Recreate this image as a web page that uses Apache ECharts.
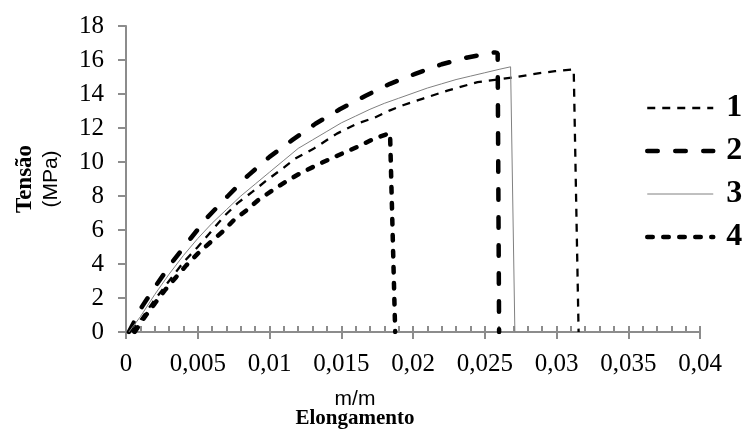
<!DOCTYPE html>
<html>
<head>
<meta charset="utf-8">
<script src="https://cdn.jsdelivr.net/npm/echarts@6/dist/echarts.min.js"></script>
<style>html,body{margin:0;padding:0;background:#fff}#c{width:748px;height:436px}</style>
</head>
<body>
<div id="c"></div>
<script>
// Series names
var seriesNames = ['1', '2', '3', '4'];
// Axis ticks
var xTicks = { min: 0, max: 0.04, interval: 0.005, minor: 0.001 };
var yTicks = { min: 0, max: 18, interval: 2 };

// [strain m/m, stress MPa]
var curve1 = [[0.0004,0],[0.001,0.7],[0.002,1.9],[0.003,3.0],[0.004,4.1],[0.005,5.0],[0.0062,6.18],[0.0069,6.86],[0.0078,7.6],[0.0088,8.24],[0.0098,8.92],[0.0109,9.61],[0.0118,10.2],[0.0131,10.8],[0.0147,11.67],[0.0161,12.26],[0.0173,12.6],[0.0184,13.04],[0.0193,13.34],[0.0207,13.73],[0.0224,14.2],[0.0245,14.7],[0.0259,14.85],[0.0272,15.0],[0.0286,15.2],[0.0299,15.34],[0.0312,15.45],[0.03154,0]];
var curve2 = [[0.0002,0],[0.0011,1.47],[0.0021,2.75],[0.0033,4.2],[0.0045,5.5],[0.0057,6.77],[0.0071,8.0],[0.0085,9.2],[0.01,10.3],[0.0116,11.3],[0.0132,12.25],[0.0149,13.1],[0.0167,13.9],[0.0184,14.6],[0.0202,15.2],[0.022,15.75],[0.0238,16.15],[0.0257,16.45],[0.0259,16.4],[0.0260,0]];
var curve3 = [[0.0002,0],[0.001,0.9],[0.002,2.2],[0.003,3.4],[0.004,4.5],[0.005,5.5],[0.006,6.4],[0.007,7.2],[0.008,8.0],[0.009,8.7],[0.01,9.4],[0.011,10.1],[0.012,10.8],[0.013,11.3],[0.014,11.8],[0.015,12.3],[0.016,12.7],[0.017,13.1],[0.018,13.45],[0.019,13.75],[0.02,14.05],[0.021,14.35],[0.022,14.6],[0.023,14.85],[0.024,15.05],[0.025,15.25],[0.026,15.45],[0.0268,15.6],[0.0271,0]];
var curve4 = [[0.0006,0],[0.0013,0.88],[0.002,1.67],[0.0027,2.45],[0.0035,3.24],[0.0042,3.92],[0.005,4.61],[0.0059,5.29],[0.0067,5.88],[0.0075,6.57],[0.0084,7.16],[0.0092,7.75],[0.0102,8.33],[0.0111,8.82],[0.0121,9.32],[0.0135,9.9],[0.0148,10.4],[0.0161,10.88],[0.0173,11.38],[0.0184,11.7],[0.01876,0]];

var SERIF = "'Liberation Serif','Times New Roman',serif";
var SANS = "'Liberation Sans',Arial,sans-serif";
var AX = '#8c8c8c';

function fmt(v) {
  return parseFloat(v.toFixed(3)).toString().replace('.', ',');
}

var styles = [
  { color: '#000', width: 2.3, type: [8, 7], cap: 'butt' },
  { color: '#000', width: 4.5, type: [10.5, 17.5], cap: 'round' },
  { color: '#808080', width: 1, type: 'solid', cap: 'butt' },
  { color: '#000', width: 4.5, type: [5.5, 10.5], cap: 'round' }
];

var chart = echarts.init(document.getElementById('c'), null, { renderer: 'canvas' });
var grid = { left: 126, right: 48, top: 26, bottom: 104 };

function lineSeries(i, data) {
  var ls = styles[i];
  return { name: seriesNames[i], type: 'line', data: data, symbol: 'none', showSymbol: false,
    silent: true, animation: false, lineStyle: ls, itemStyle: { color: ls.color }, z: 3 };
}

chart.setOption({
  animation: false,
  grid: grid,
  legend: {
    orient: 'vertical', left: 645, top: 91, padding: 0, itemWidth: 66, itemHeight: 14, itemGap: 9,
    itemStyle: { color: 'rgba(0,0,0,0)', borderWidth: 0, opacity: 0 },
    textStyle: { fontFamily: SERIF, fontWeight: 'bold', fontSize: 32, color: '#000', lineHeight: 34, padding: [0,0,0,8] },
    data: seriesNames.map(function (n, i) {
      var s = styles[i];
      return { name: n, lineStyle: { color: s.color, width: s.width, type: s.type, cap: s.cap } };
    })
  },
  xAxis: [{
    type: 'value', min: xTicks.min, max: xTicks.max, interval: xTicks.interval,
    axisLine: { lineStyle: { color: AX, width: 2 } },
    axisTick: { show: true, inside: false, length: 7, lineStyle: { color: AX, width: 2 } },
    splitLine: { show: false },
    axisLabel: { formatter: fmt, fontFamily: SERIF, fontSize: 25, color: '#000', margin: 20 },
    name: '{a|m/m}\n{b|Elongamento}',
    nameLocation: 'middle', nameGap: 57,
    nameTextStyle: {
      padding: [0, 116, 0, 0],
      rich: {
        a: { fontFamily: SANS, fontSize: 21, color: '#000', lineHeight: 20, align: 'center' },
        b: { fontFamily: SERIF, fontSize: 21, fontWeight: 'bold', color: '#000', lineHeight: 20, align: 'center' }
      }
    }
  }, {
    type: 'value', min: xTicks.min, max: xTicks.max, interval: xTicks.minor, position: 'bottom',
    axisLine: { show: false },
    axisTick: { show: true, inside: true, length: 6, lineStyle: { color: AX, width: 2 } },
    axisLabel: { show: false }, splitLine: { show: false }
  }],
  yAxis: {
    type: 'value', min: yTicks.min, max: yTicks.max, interval: yTicks.interval,
    axisLine: { show: true, lineStyle: { color: AX, width: 2 } },
    axisTick: { show: true, inside: false, length: 8, lineStyle: { color: AX, width: 2 } },
    splitLine: { show: false },
    axisLabel: { fontFamily: SERIF, fontSize: 25, color: '#000', margin: 22 },
    name: '{a|Tensão}\n{b|(MPa)}',
    nameLocation: 'middle', nameGap: 62, nameRotate: 90,
    nameTextStyle: {
      rich: {
        a: { fontFamily: SERIF, fontSize: 23, fontWeight: 'bold', color: '#000', lineHeight: 26, align: 'center' },
        b: { fontFamily: SANS, fontSize: 21, color: '#000', lineHeight: 26, align: 'center' }
      }
    }
  },
  series: [
    lineSeries(0, curve1),
    lineSeries(1, curve2),
    lineSeries(2, curve3),
    lineSeries(3, curve4)
  ]
});
</script>
</body>
</html>
